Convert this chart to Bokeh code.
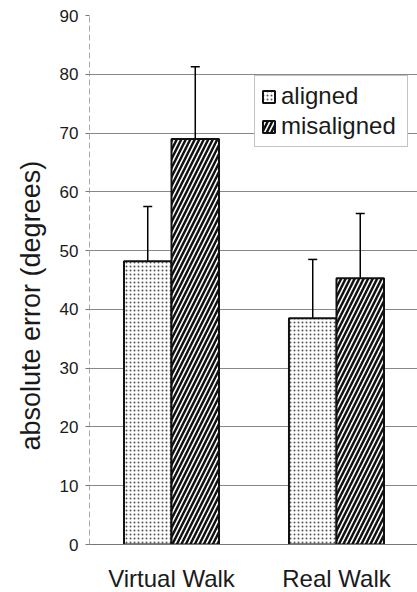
from bokeh.plotting import figure
from bokeh.models import Range1d, FixedTicker, ColumnDataSource, Whisker, TeeHead, Legend, LegendItem, Title
from bokeh.embed import file_html
from bokeh.resources import INLINE

categories = ["Virtual Walk", "Real Walk"]
series = ["aligned", "misaligned"]
aligned = [48.2, 38.5]
misaligned = [69.0, 45.3]
aligned_err = [9.3, 10.0]
misaligned_err = [12.3, 11.0]
y_ticks = [0, 10, 20, 30, 40, 50, 60, 70, 80, 90]
y_label = "absolute error (degrees)"

FONT = "Liberation Sans"
centers = [i + 0.5 for i in range(len(categories))]
bw = 0.288
off = bw / 2

p = figure(width=417, height=592, output_backend="svg", toolbar_location=None,
           x_range=Range1d(0.003, 1.991), y_range=Range1d(0, 90),
           frame_width=328, frame_height=529,
           min_border_left=89, min_border_right=0, min_border_top=15, min_border_bottom=48)
p.outline_line_color = None
p.background_fill_color = "white"

src_a = ColumnDataSource(dict(x=[c - off for c in centers], top=aligned,
                              up=[v + e for v, e in zip(aligned, aligned_err)]))
src_m = ColumnDataSource(dict(x=[c + off for c in centers], top=misaligned,
                              up=[v + e for v, e in zip(misaligned, misaligned_err)]))

for src in (src_a, src_m):
    w = Whisker(source=src, base="x", upper="up", lower="top", dimension="height",
                line_color="black", line_width=1.5,
                upper_head=TeeHead(size=9, line_color="black", line_width=1.5),
                lower_head=None)
    p.add_layout(w)

ra = p.vbar(x="x", top="top", width=bw, bottom=0, source=src_a,
            fill_color="white", line_color="#111111", line_width=2,
            hatch_pattern="dot", hatch_color="#555555", hatch_scale=4, hatch_weight=1)
rm = p.vbar(x="x", top="top", width=bw, bottom=0, source=src_m,
            fill_color="white", line_color="#111111", line_width=2,
            hatch_pattern="right_diagonal_line", hatch_color="#111111", hatch_scale=9, hatch_weight=2.5)

legend = Legend(items=[LegendItem(label=series[0], renderers=[ra]),
                       LegendItem(label=series[1], renderers=[rm])],
                location=(165, 397), label_text_font=FONT, label_text_font_size="24px",
                label_text_color="#1a1a1a",
                glyph_width=15, glyph_height=15, label_standoff=5, spacing=2,
                padding=6, margin=0, border_line_color="#888888", border_line_width=1,
                label_height=24, label_width=120, background_fill_alpha=1)
p.add_layout(legend)

p.xaxis.ticker = FixedTicker(ticks=centers)
p.xaxis.major_label_overrides = {c: n for c, n in zip(centers, categories)}
p.xaxis.major_label_text_font = FONT
p.xaxis.major_label_text_font_size = "24px"
p.xaxis.major_label_text_color = "#1a1a1a"
p.xaxis.major_label_standoff = 20
p.xaxis.major_tick_out = 0
p.xaxis.major_tick_in = 0
p.xaxis.major_tick_line_color = None
p.xaxis.minor_tick_line_color = None
p.xaxis.axis_line_color = "#777777"
p.xaxis.axis_line_width = 1

p.yaxis.ticker = FixedTicker(ticks=y_ticks)
p.yaxis.major_label_text_font = FONT
p.yaxis.major_label_text_font_size = "17px"
p.yaxis.major_label_text_color = "#1a1a1a"
p.yaxis.major_tick_out = 4
p.yaxis.major_tick_in = 0
p.yaxis.major_tick_line_color = "#777777"
p.yaxis.minor_tick_line_color = None
p.yaxis.axis_line_color = "#aaaaaa"
p.yaxis.axis_line_dash = "6 3"
p.yaxis.major_label_standoff = 7

ytitle = Title(text=y_label, align="left", offset=94, standoff=22,
               text_font=FONT, text_font_size="27px", text_font_style="normal",
               text_color="#1a1a1a")
p.add_layout(ytitle, "left")

p.xgrid.grid_line_color = None
p.ygrid.grid_line_color = "#888888"
p.ygrid.grid_line_width = 1
p.ygrid.level = "underlay"

open("out.html", "w").write(file_html(p, INLINE))
